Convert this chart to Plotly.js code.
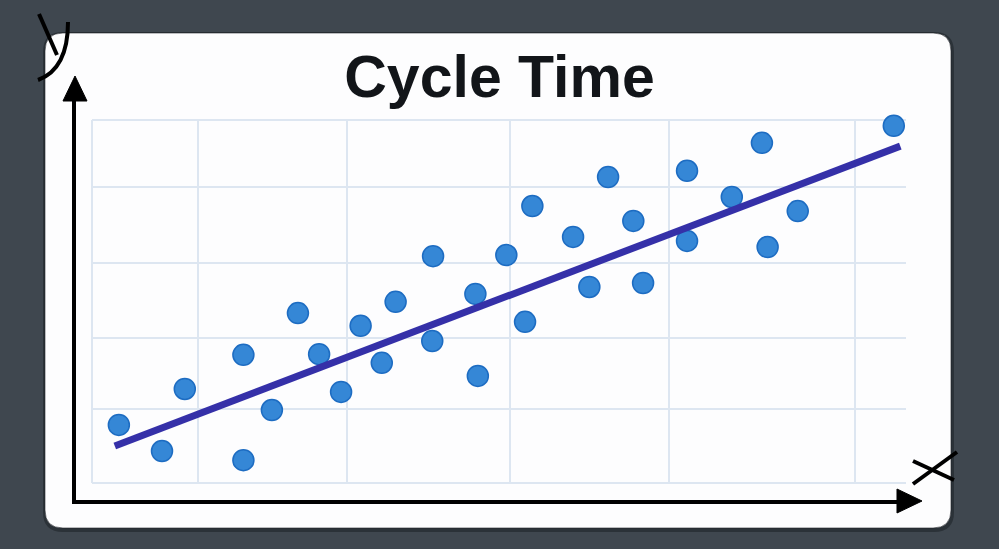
<!DOCTYPE html>
<html>
<head>
<meta charset="utf-8">
<script src="https://cdn.plot.ly/plotly-3.0.1.min.js"></script>
<style>
html,body{margin:0;padding:0;background:#3f474f;overflow:hidden;}
#chart{width:999px;height:549px;}
</style>
</head>
<body>
<div id="chart"></div>
<script>
// ---- data (arbitrary units) ----
var pointX = [3.3, 8.6, 11.4, 18.6, 18.6, 22.1, 25.3, 27.9, 30.6, 33.0, 35.6, 37.3, 41.8, 41.9, 47.4, 47.1, 50.9, 53.2, 54.1, 59.1, 61.1, 63.4, 66.5, 67.7, 73.1, 73.1, 78.6, 82.3, 83.0, 86.7, 98.5];
var pointY = [16.0, 8.8, 25.9, 6.3, 35.3, 20.1, 46.8, 35.5, 25.1, 43.3, 33.1, 49.9, 39.1, 62.5, 29.5, 52.1, 62.8, 44.4, 76.3, 67.8, 54.0, 84.3, 72.2, 55.1, 86.0, 66.7, 78.8, 93.7, 65.0, 74.9, 98.4];
var trendX = [2.8, 99.3];
var trendY = [10.2, 92.8];
var gridX = [0, 13.0, 31.3, 51.4, 70.9, 93.7];
var gridY = [0, 20.4, 39.9, 60.6, 81.5, 100];
var titleText = "Cycle Time";

// ---- pixel -> paper helpers (layout only) ----
var L = 92, R = 906, T = 120, B = 483;
function px(x){ return ((x - L) / (R - L)).toFixed(5); }
function py(y){ return ((B - y) / (B - T)).toFixed(5); }
function P(x, y){ return px(x) + ',' + py(y); }
function roundRect(x0, y0, x1, y1, r){
  return 'M' + P(x0 + r, y0) + ' L' + P(x1 - r, y0) +
    ' Q' + P(x1, y0) + ' ' + P(x1, y0 + r) +
    ' L' + P(x1, y1 - r) + ' Q' + P(x1, y1) + ' ' + P(x1 - r, y1) +
    ' L' + P(x0 + r, y1) + ' Q' + P(x0, y1) + ' ' + P(x0, y1 - r) +
    ' L' + P(x0, y0 + r) + ' Q' + P(x0, y0) + ' ' + P(x0 + r, y0) + ' Z';
}
var gridColor = '#dde6f1';

var shapes = [
  {type:'path', xref:'paper', yref:'paper', layer:'below', path: roundRect(43, 32, 954, 532, 20), fillcolor:'rgba(20,24,28,0.45)', line:{width:0}},
  {type:'path', xref:'paper', yref:'paper', layer:'below', path: roundRect(45, 33, 951, 528, 18), fillcolor:'#fdfdfe', line:{color:'rgba(30,34,38,0.6)', width:1}},
  // grid frame edges (left, top, bottom)
  {type:'line', xref:'paper', yref:'paper', layer:'below', x0:0, x1:0, y0:0, y1:1, line:{color:gridColor, width:2}},
  {type:'line', xref:'paper', yref:'paper', layer:'below', x0:0, x1:1, y0:1, y1:1, line:{color:gridColor, width:2}},
  {type:'line', xref:'paper', yref:'paper', layer:'below', x0:0, x1:1, y0:0, y1:0, line:{color:gridColor, width:2}},
  // y axis arrow
  {type:'path', xref:'paper', yref:'paper', layer:'above', path:'M' + P(74, 504) + ' L' + P(74, 96), line:{color:'#000', width:4}},
  {type:'path', xref:'paper', yref:'paper', layer:'above', path:'M' + P(75, 76) + ' L' + P(63, 101) + ' L' + P(87, 101) + ' Z', fillcolor:'#000', line:{color:'#000', width:1}},
  // x axis arrow
  {type:'path', xref:'paper', yref:'paper', layer:'above', path:'M' + P(72, 502) + ' L' + P(900, 502), line:{color:'#000', width:4}},
  {type:'path', xref:'paper', yref:'paper', layer:'above', path:'M' + P(922, 501) + ' L' + P(897, 489) + ' L' + P(897, 513) + ' Z', fillcolor:'#000', line:{color:'#000', width:1}},
  // hand drawn "y"
  {type:'path', xref:'paper', yref:'paper', layer:'above', path:'M' + P(39, 14) + ' L' + P(57, 55), line:{color:'#000', width:4}},
  {type:'path', xref:'paper', yref:'paper', layer:'above', path:'M' + P(68, 22) + ' C' + P(68, 50) + ' ' + P(60, 72) + ' ' + P(38, 80), line:{color:'#000', width:4}},
  // hand drawn "x"
  {type:'path', xref:'paper', yref:'paper', layer:'above', path:'M' + P(913, 461) + ' L' + P(954, 480), line:{color:'#000', width:4}},
  {type:'path', xref:'paper', yref:'paper', layer:'above', path:'M' + P(913, 484) + ' L' + P(957, 452), line:{color:'#000', width:4}}
];

var traces = [
  {type:'scatter', mode:'markers', x: pointX, y: pointY, hoverinfo:'skip', cliponaxis:false,
   marker:{size:21, color:'#3587d6', line:{color:'#1d6cc2', width:1.5}}},
  {type:'scatter', mode:'lines', x: trendX, y: trendY, hoverinfo:'skip', cliponaxis:false,
   line:{color:'#3530a8', width:7}}
];

var layout = {
  width:999, height:549,
  margin:{l:L, r:999 - R, t:T, b:549 - B, pad:0},
  paper_bgcolor:'#3f474f',
  plot_bgcolor:'rgba(0,0,0,0)',
  showlegend:false,
  title:{text: titleText, x:0.5, xanchor:'center', xref:'container', y:1 - 76/549, yref:'container', yanchor:'middle',
         font:{family:'Liberation Sans, Arial, sans-serif', size:59, color:'#121519', weight:'bold'}},
  xaxis:{range:[0, 100], tickmode:'array', tickvals: gridX, showticklabels:false, ticks:'',
         showgrid:true, gridcolor:gridColor, gridwidth:2, zeroline:false, showline:false, fixedrange:true},
  yaxis:{range:[0, 100], tickmode:'array', tickvals: gridY, showticklabels:false, ticks:'',
         showgrid:true, gridcolor:gridColor, gridwidth:2, zeroline:false, showline:false, fixedrange:true},
  shapes: shapes
};

Plotly.newPlot('chart', traces, layout, {displayModeBar:false, staticPlot:true});
</script>
</body>
</html>
